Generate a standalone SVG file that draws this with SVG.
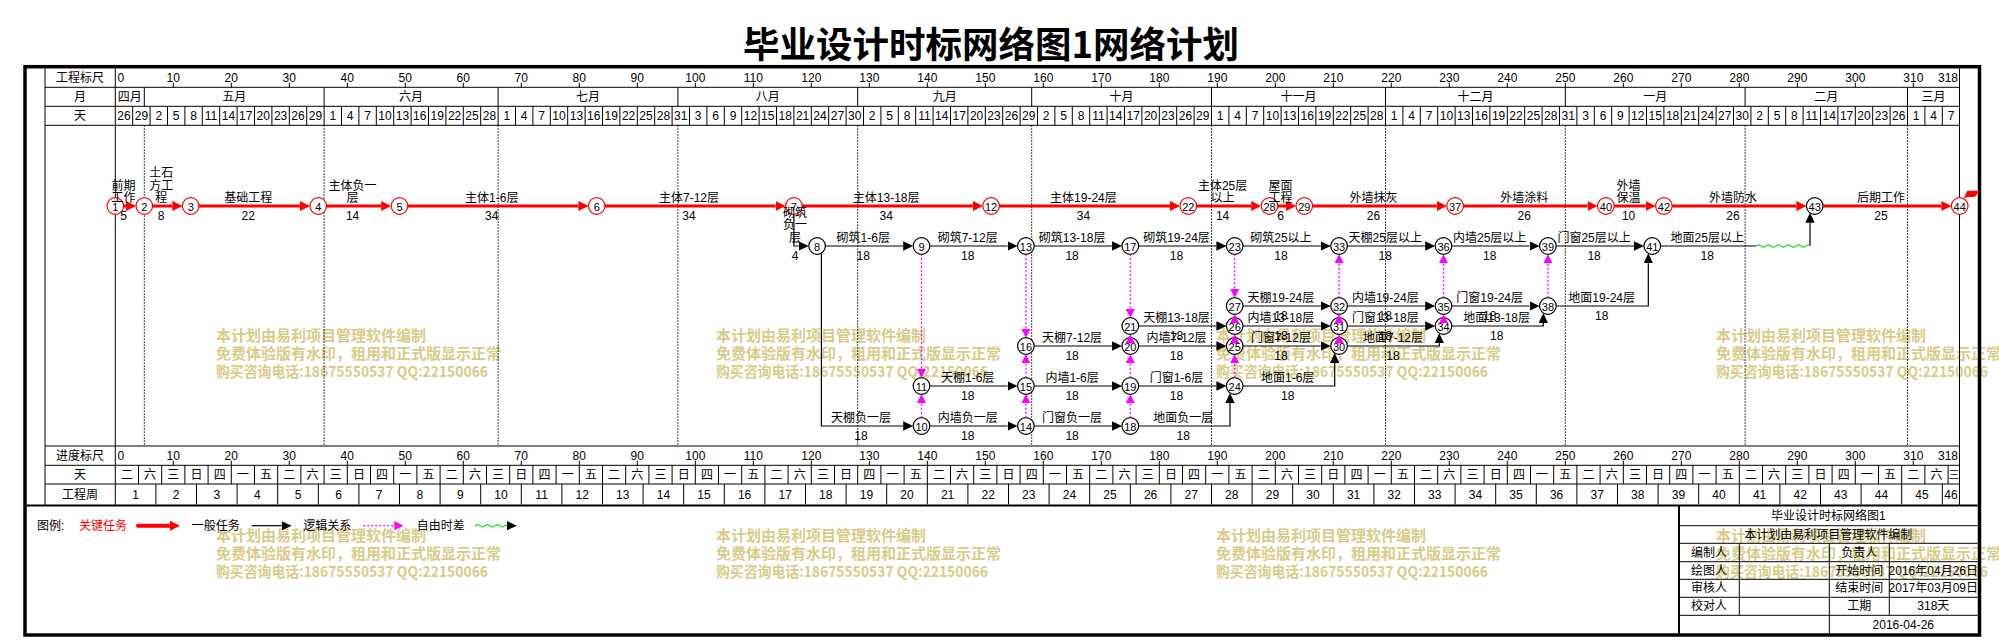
<svg xmlns="http://www.w3.org/2000/svg" width="1999" height="640" viewBox="0 0 1999 640">
<style>
text{font-family:"Liberation Sans","Noto Sans CJK SC",sans-serif;font-size:12px;fill:#000;dominant-baseline:central}
.c{text-anchor:middle}
.e{text-anchor:end}
.s{font-size:11px}
.r{fill:#f00}
.wm{font-family:"Noto Sans CJK SC",sans-serif;font-weight:bold;font-size:15px;fill:#d8cc88}
.title{font-family:"Noto Sans CJK SC",sans-serif;font-weight:bold;font-size:36.5px;text-anchor:middle}
.ln{stroke:#000;stroke-width:1;fill:none}
.dot{stroke:#000;stroke-width:1;stroke-dasharray:1.5 1.5;fill:none}
.nr circle{fill:#fff;stroke:#f00;stroke-width:1.2}
.nb circle{fill:#fff;stroke:#000;stroke-width:1.2}
.nr text,.nb text{font-size:11px;text-anchor:middle}
.cr{stroke:#f00;stroke-width:3;fill:none}
.cb{stroke:#000;stroke-width:1.2;fill:none}
.cm{stroke:#f0f;stroke-width:1.3;stroke-dasharray:2 2;fill:none}
.wave{stroke:#1fdc1f;stroke-width:1.2;fill:none}
</style>
<defs>
<marker id="ar" viewBox="0 0 10 10" refX="0" refY="5" markerWidth="10" markerHeight="10" orient="auto" markerUnits="userSpaceOnUse"><path d="M0,0L10,5L0,10z" fill="#f00"/></marker>
<marker id="ab" viewBox="0 0 10 9.4" refX="0" refY="4.7" markerWidth="10" markerHeight="9.4" orient="auto" markerUnits="userSpaceOnUse"><path d="M0,0L10,4.7L0,9.4z" fill="#000"/></marker>
<marker id="am" viewBox="0 0 9 9.4" refX="0" refY="4.7" markerWidth="9" markerHeight="9.4" orient="auto" markerUnits="userSpaceOnUse"><path d="M0,0L9,4.7L0,9.4z" fill="#f0f"/></marker>
</defs>
<rect x="0" y="0" width="1999" height="640" fill="#fff"/>
<text class="title" x="991" y="42">毕业设计时标网络图1网络计划</text>

<g id="watermarks">
<text class="wm" x="216" y="334">本计划由易利项目管理软件编制</text>
<text class="wm" x="216" y="352.5">免费体验版有水印，租用和正式版显示正常</text>
<text class="wm" x="216" y="370" textLength="272" lengthAdjust="spacingAndGlyphs">购买咨询电话:18675550537 QQ:22150066</text>
<text class="wm" x="716" y="334">本计划由易利项目管理软件编制</text>
<text class="wm" x="716" y="352.5">免费体验版有水印，租用和正式版显示正常</text>
<text class="wm" x="716" y="370" textLength="272" lengthAdjust="spacingAndGlyphs">购买咨询电话:18675550537 QQ:22150066</text>
<text class="wm" x="1216" y="334">本计划由易利项目管理软件编制</text>
<text class="wm" x="1216" y="352.5">免费体验版有水印，租用和正式版显示正常</text>
<text class="wm" x="1216" y="370" textLength="272" lengthAdjust="spacingAndGlyphs">购买咨询电话:18675550537 QQ:22150066</text>
<text class="wm" x="1716" y="334">本计划由易利项目管理软件编制</text>
<text class="wm" x="1716" y="352.5">免费体验版有水印，租用和正式版显示正常</text>
<text class="wm" x="1716" y="370" textLength="272" lengthAdjust="spacingAndGlyphs">购买咨询电话:18675550537 QQ:22150066</text>
<text class="wm" x="216" y="534">本计划由易利项目管理软件编制</text>
<text class="wm" x="216" y="552.5">免费体验版有水印，租用和正式版显示正常</text>
<text class="wm" x="216" y="570" textLength="272" lengthAdjust="spacingAndGlyphs">购买咨询电话:18675550537 QQ:22150066</text>
<text class="wm" x="716" y="534">本计划由易利项目管理软件编制</text>
<text class="wm" x="716" y="552.5">免费体验版有水印，租用和正式版显示正常</text>
<text class="wm" x="716" y="570" textLength="272" lengthAdjust="spacingAndGlyphs">购买咨询电话:18675550537 QQ:22150066</text>
<text class="wm" x="1216" y="534">本计划由易利项目管理软件编制</text>
<text class="wm" x="1216" y="552.5">免费体验版有水印，租用和正式版显示正常</text>
<text class="wm" x="1216" y="570" textLength="272" lengthAdjust="spacingAndGlyphs">购买咨询电话:18675550537 QQ:22150066</text>
<text class="wm" x="1716" y="534">本计划由易利项目管理软件编制</text>
<text class="wm" x="1716" y="552.5">免费体验版有水印，租用和正式版显示正常</text>
<text class="wm" x="1716" y="570" textLength="272" lengthAdjust="spacingAndGlyphs">购买咨询电话:18675550537 QQ:22150066</text>
</g>

<g id="frame">
<rect x="25" y="66.7" width="1954.5" height="568.3" fill="none" stroke="#000" stroke-width="3.5"/>
<path class="ln" d="M45,68.4V505M115.3,68.4V505M1959.5,68.4V505M45,87.3H1959.5M45,106.3H1959.5M45,125.3H1959.5M45,446H1959.5M45,465.3H1959.5M45,484H1959.5"/>
<path d="M26.7,505.5H1977.7" stroke="#000" stroke-width="2"/>
</g>

<g id="scale-top">
<text x="80" y="77.7" class="c">工程标尺</text>
<text x="80" y="96.8" class="c">月</text>
<text x="80" y="115.8" class="c">天</text>
<path class="ln" d="M173.3,82.7V87.3M231.3,82.7V87.3M289.3,82.7V87.3M347.3,82.7V87.3M405.3,82.7V87.3M463.3,82.7V87.3M521.3,82.7V87.3M579.3,82.7V87.3M637.3,82.7V87.3M695.3,82.7V87.3M753.3,82.7V87.3M811.3,82.7V87.3M869.3,82.7V87.3M927.3,82.7V87.3M985.3,82.7V87.3M1043.3,82.7V87.3M1101.3,82.7V87.3M1159.3,82.7V87.3M1217.3,82.7V87.3M1275.3,82.7V87.3M1333.3,82.7V87.3M1391.3,82.7V87.3M1449.3,82.7V87.3M1507.3,82.7V87.3M1565.3,82.7V87.3M1623.3,82.7V87.3M1681.3,82.7V87.3M1739.3,82.7V87.3M1797.3,82.7V87.3M1855.3,82.7V87.3M1913.3,82.7V87.3"/>
<g class="s">
<text x="117.5" y="77.7">0</text>
<text x="173.3" y="77.7" class="c">10</text><text x="231.3" y="77.7" class="c">20</text><text x="289.3" y="77.7" class="c">30</text><text x="347.3" y="77.7" class="c">40</text><text x="405.3" y="77.7" class="c">50</text><text x="463.3" y="77.7" class="c">60</text><text x="521.3" y="77.7" class="c">70</text><text x="579.3" y="77.7" class="c">80</text><text x="637.3" y="77.7" class="c">90</text><text x="695.3" y="77.7" class="c">100</text><text x="753.3" y="77.7" class="c">110</text><text x="811.3" y="77.7" class="c">120</text><text x="869.3" y="77.7" class="c">130</text><text x="927.3" y="77.7" class="c">140</text><text x="985.3" y="77.7" class="c">150</text><text x="1043.3" y="77.7" class="c">160</text><text x="1101.3" y="77.7" class="c">170</text><text x="1159.3" y="77.7" class="c">180</text><text x="1217.3" y="77.7" class="c">190</text><text x="1275.3" y="77.7" class="c">200</text><text x="1333.3" y="77.7" class="c">210</text><text x="1391.3" y="77.7" class="c">220</text><text x="1449.3" y="77.7" class="c">230</text><text x="1507.3" y="77.7" class="c">240</text><text x="1565.3" y="77.7" class="c">250</text><text x="1623.3" y="77.7" class="c">260</text><text x="1681.3" y="77.7" class="c">270</text><text x="1739.3" y="77.7" class="c">280</text><text x="1797.3" y="77.7" class="c">290</text><text x="1855.3" y="77.7" class="c">300</text><text x="1913.3" y="77.7" class="c">310</text>
<text x="1958" y="77.7" class="e">318</text>
</g>
<path class="ln" d="M144.3,87.3V106.3M324.1,87.3V106.3M498.1,87.3V106.3M677.9,87.3V106.3M857.7,87.3V106.3M1031.7,87.3V106.3M1211.5,87.3V106.3M1385.5,87.3V106.3M1565.3,87.3V106.3M1745.1,87.3V106.3M1907.5,87.3V106.3"/>
<text x="129.8" y="96.8" class="c">四月</text><text x="234.2" y="96.8" class="c">五月</text><text x="411.1" y="96.8" class="c">六月</text><text x="588" y="96.8" class="c">七月</text><text x="767.8" y="96.8" class="c">八月</text><text x="944.7" y="96.8" class="c">九月</text><text x="1121.6" y="96.8" class="c">十月</text><text x="1298.5" y="96.8" class="c">十一月</text><text x="1475.4" y="96.8" class="c">十二月</text><text x="1655.2" y="96.8" class="c">一月</text><text x="1826.3" y="96.8" class="c">二月</text><text x="1933.6" y="96.8" class="c">三月</text>
<path class="ln" d="M132.7,106.3V125.3M150.1,106.3V125.3M167.5,106.3V125.3M184.9,106.3V125.3M202.3,106.3V125.3M219.7,106.3V125.3M237.1,106.3V125.3M254.5,106.3V125.3M271.9,106.3V125.3M289.3,106.3V125.3M306.7,106.3V125.3M324.1,106.3V125.3M341.5,106.3V125.3M358.9,106.3V125.3M376.3,106.3V125.3M393.7,106.3V125.3M411.1,106.3V125.3M428.5,106.3V125.3M445.9,106.3V125.3M463.3,106.3V125.3M480.7,106.3V125.3M498.1,106.3V125.3M515.5,106.3V125.3M532.9,106.3V125.3M550.3,106.3V125.3M567.7,106.3V125.3M585.1,106.3V125.3M602.5,106.3V125.3M619.9,106.3V125.3M637.3,106.3V125.3M654.7,106.3V125.3M672.1,106.3V125.3M689.5,106.3V125.3M706.9,106.3V125.3M724.3,106.3V125.3M741.7,106.3V125.3M759.1,106.3V125.3M776.5,106.3V125.3M793.9,106.3V125.3M811.3,106.3V125.3M828.7,106.3V125.3M846.1,106.3V125.3M863.5,106.3V125.3M880.9,106.3V125.3M898.3,106.3V125.3M915.7,106.3V125.3M933.1,106.3V125.3M950.5,106.3V125.3M967.9,106.3V125.3M985.3,106.3V125.3M1002.7,106.3V125.3M1020.1,106.3V125.3M1037.5,106.3V125.3M1054.9,106.3V125.3M1072.3,106.3V125.3M1089.7,106.3V125.3M1107.1,106.3V125.3M1124.5,106.3V125.3M1141.9,106.3V125.3M1159.3,106.3V125.3M1176.7,106.3V125.3M1194.1,106.3V125.3M1211.5,106.3V125.3M1228.9,106.3V125.3M1246.3,106.3V125.3M1263.7,106.3V125.3M1281.1,106.3V125.3M1298.5,106.3V125.3M1315.9,106.3V125.3M1333.3,106.3V125.3M1350.7,106.3V125.3M1368.1,106.3V125.3M1385.5,106.3V125.3M1402.9,106.3V125.3M1420.3,106.3V125.3M1437.7,106.3V125.3M1455.1,106.3V125.3M1472.5,106.3V125.3M1489.9,106.3V125.3M1507.3,106.3V125.3M1524.7,106.3V125.3M1542.1,106.3V125.3M1559.5,106.3V125.3M1576.9,106.3V125.3M1594.3,106.3V125.3M1611.7,106.3V125.3M1629.1,106.3V125.3M1646.5,106.3V125.3M1663.9,106.3V125.3M1681.3,106.3V125.3M1698.7,106.3V125.3M1716.1,106.3V125.3M1733.5,106.3V125.3M1750.9,106.3V125.3M1768.3,106.3V125.3M1785.7,106.3V125.3M1803.1,106.3V125.3M1820.5,106.3V125.3M1837.9,106.3V125.3M1855.3,106.3V125.3M1872.7,106.3V125.3M1890.1,106.3V125.3M1907.5,106.3V125.3M1924.9,106.3V125.3M1942.3,106.3V125.3"/>
<g class="s">
<text x="124" y="115.8" class="c">26</text><text x="141.4" y="115.8" class="c">29</text><text x="158.8" y="115.8" class="c">2</text><text x="176.2" y="115.8" class="c">5</text><text x="193.6" y="115.8" class="c">8</text><text x="211" y="115.8" class="c">11</text><text x="228.4" y="115.8" class="c">14</text><text x="245.8" y="115.8" class="c">17</text><text x="263.2" y="115.8" class="c">20</text><text x="280.6" y="115.8" class="c">23</text><text x="298" y="115.8" class="c">26</text><text x="315.4" y="115.8" class="c">29</text><text x="332.8" y="115.8" class="c">1</text><text x="350.2" y="115.8" class="c">4</text><text x="367.6" y="115.8" class="c">7</text><text x="385" y="115.8" class="c">10</text><text x="402.4" y="115.8" class="c">13</text><text x="419.8" y="115.8" class="c">16</text><text x="437.2" y="115.8" class="c">19</text><text x="454.6" y="115.8" class="c">22</text><text x="472" y="115.8" class="c">25</text><text x="489.4" y="115.8" class="c">28</text><text x="506.8" y="115.8" class="c">1</text><text x="524.2" y="115.8" class="c">4</text><text x="541.6" y="115.8" class="c">7</text><text x="559" y="115.8" class="c">10</text><text x="576.4" y="115.8" class="c">13</text><text x="593.8" y="115.8" class="c">16</text><text x="611.2" y="115.8" class="c">19</text><text x="628.6" y="115.8" class="c">22</text><text x="646" y="115.8" class="c">25</text><text x="663.4" y="115.8" class="c">28</text><text x="680.8" y="115.8" class="c">31</text><text x="698.2" y="115.8" class="c">3</text><text x="715.6" y="115.8" class="c">6</text><text x="733" y="115.8" class="c">9</text><text x="750.4" y="115.8" class="c">12</text><text x="767.8" y="115.8" class="c">15</text><text x="785.2" y="115.8" class="c">18</text><text x="802.6" y="115.8" class="c">21</text><text x="820" y="115.8" class="c">24</text><text x="837.4" y="115.8" class="c">27</text><text x="854.8" y="115.8" class="c">30</text><text x="872.2" y="115.8" class="c">2</text><text x="889.6" y="115.8" class="c">5</text><text x="907" y="115.8" class="c">8</text><text x="924.4" y="115.8" class="c">11</text><text x="941.8" y="115.8" class="c">14</text><text x="959.2" y="115.8" class="c">17</text><text x="976.6" y="115.8" class="c">20</text><text x="994" y="115.8" class="c">23</text><text x="1011.4" y="115.8" class="c">26</text><text x="1028.8" y="115.8" class="c">29</text><text x="1046.2" y="115.8" class="c">2</text><text x="1063.6" y="115.8" class="c">5</text><text x="1081" y="115.8" class="c">8</text><text x="1098.4" y="115.8" class="c">11</text><text x="1115.8" y="115.8" class="c">14</text><text x="1133.2" y="115.8" class="c">17</text><text x="1150.6" y="115.8" class="c">20</text><text x="1168" y="115.8" class="c">23</text><text x="1185.4" y="115.8" class="c">26</text><text x="1202.8" y="115.8" class="c">29</text><text x="1220.2" y="115.8" class="c">1</text><text x="1237.6" y="115.8" class="c">4</text><text x="1255" y="115.8" class="c">7</text><text x="1272.4" y="115.8" class="c">10</text><text x="1289.8" y="115.8" class="c">13</text><text x="1307.2" y="115.8" class="c">16</text><text x="1324.6" y="115.8" class="c">19</text><text x="1342" y="115.8" class="c">22</text><text x="1359.4" y="115.8" class="c">25</text><text x="1376.8" y="115.8" class="c">28</text><text x="1394.2" y="115.8" class="c">1</text><text x="1411.6" y="115.8" class="c">4</text><text x="1429" y="115.8" class="c">7</text><text x="1446.4" y="115.8" class="c">10</text><text x="1463.8" y="115.8" class="c">13</text><text x="1481.2" y="115.8" class="c">16</text><text x="1498.6" y="115.8" class="c">19</text><text x="1516" y="115.8" class="c">22</text><text x="1533.4" y="115.8" class="c">25</text><text x="1550.8" y="115.8" class="c">28</text><text x="1568.2" y="115.8" class="c">31</text><text x="1585.6" y="115.8" class="c">3</text><text x="1603" y="115.8" class="c">6</text><text x="1620.4" y="115.8" class="c">9</text><text x="1637.8" y="115.8" class="c">12</text><text x="1655.2" y="115.8" class="c">15</text><text x="1672.6" y="115.8" class="c">18</text><text x="1690" y="115.8" class="c">21</text><text x="1707.4" y="115.8" class="c">24</text><text x="1724.8" y="115.8" class="c">27</text><text x="1742.2" y="115.8" class="c">30</text><text x="1759.6" y="115.8" class="c">2</text><text x="1777" y="115.8" class="c">5</text><text x="1794.4" y="115.8" class="c">8</text><text x="1811.8" y="115.8" class="c">11</text><text x="1829.2" y="115.8" class="c">14</text><text x="1846.6" y="115.8" class="c">17</text><text x="1864" y="115.8" class="c">20</text><text x="1881.4" y="115.8" class="c">23</text><text x="1898.8" y="115.8" class="c">26</text><text x="1916.2" y="115.8" class="c">1</text><text x="1933.6" y="115.8" class="c">4</text><text x="1951" y="115.8" class="c">7</text>
</g>
</g>

<path id="month-lines" class="dot" d="M144.3,125.3V446M324.1,125.3V446M498.1,125.3V446M677.9,125.3V446M857.7,125.3V446M1031.7,125.3V446M1211.5,125.3V446M1385.5,125.3V446M1565.3,125.3V446M1745.1,125.3V446M1907.5,125.3V446"/>

<g id="scale-bottom">
<text x="80" y="455.7" class="c">进度标尺</text>
<text x="80" y="474.7" class="c">天</text>
<text x="80" y="494.5" class="c">工程周</text>
<path class="ln" d="M173.3,460.7V465.3M231.3,460.7V465.3M289.3,460.7V465.3M347.3,460.7V465.3M405.3,460.7V465.3M463.3,460.7V465.3M521.3,460.7V465.3M579.3,460.7V465.3M637.3,460.7V465.3M695.3,460.7V465.3M753.3,460.7V465.3M811.3,460.7V465.3M869.3,460.7V465.3M927.3,460.7V465.3M985.3,460.7V465.3M1043.3,460.7V465.3M1101.3,460.7V465.3M1159.3,460.7V465.3M1217.3,460.7V465.3M1275.3,460.7V465.3M1333.3,460.7V465.3M1391.3,460.7V465.3M1449.3,460.7V465.3M1507.3,460.7V465.3M1565.3,460.7V465.3M1623.3,460.7V465.3M1681.3,460.7V465.3M1739.3,460.7V465.3M1797.3,460.7V465.3M1855.3,460.7V465.3M1913.3,460.7V465.3"/>
<g class="s">
<text x="117.5" y="455.7">0</text>
<text x="173.3" y="455.7" class="c">10</text><text x="231.3" y="455.7" class="c">20</text><text x="289.3" y="455.7" class="c">30</text><text x="347.3" y="455.7" class="c">40</text><text x="405.3" y="455.7" class="c">50</text><text x="463.3" y="455.7" class="c">60</text><text x="521.3" y="455.7" class="c">70</text><text x="579.3" y="455.7" class="c">80</text><text x="637.3" y="455.7" class="c">90</text><text x="695.3" y="455.7" class="c">100</text><text x="753.3" y="455.7" class="c">110</text><text x="811.3" y="455.7" class="c">120</text><text x="869.3" y="455.7" class="c">130</text><text x="927.3" y="455.7" class="c">140</text><text x="985.3" y="455.7" class="c">150</text><text x="1043.3" y="455.7" class="c">160</text><text x="1101.3" y="455.7" class="c">170</text><text x="1159.3" y="455.7" class="c">180</text><text x="1217.3" y="455.7" class="c">190</text><text x="1275.3" y="455.7" class="c">200</text><text x="1333.3" y="455.7" class="c">210</text><text x="1391.3" y="455.7" class="c">220</text><text x="1449.3" y="455.7" class="c">230</text><text x="1507.3" y="455.7" class="c">240</text><text x="1565.3" y="455.7" class="c">250</text><text x="1623.3" y="455.7" class="c">260</text><text x="1681.3" y="455.7" class="c">270</text><text x="1739.3" y="455.7" class="c">280</text><text x="1797.3" y="455.7" class="c">290</text><text x="1855.3" y="455.7" class="c">300</text><text x="1913.3" y="455.7" class="c">310</text>
<text x="1958" y="455.7" class="e">318</text>
</g>
<path class="ln" d="M138.5,465.3V484M161.7,465.3V484M184.9,465.3V484M208.1,465.3V484M231.3,465.3V484M254.5,465.3V484M277.7,465.3V484M300.9,465.3V484M324.1,465.3V484M347.3,465.3V484M370.5,465.3V484M393.7,465.3V484M416.9,465.3V484M440.1,465.3V484M463.3,465.3V484M486.5,465.3V484M509.7,465.3V484M532.9,465.3V484M556.1,465.3V484M579.3,465.3V484M602.5,465.3V484M625.7,465.3V484M648.9,465.3V484M672.1,465.3V484M695.3,465.3V484M718.5,465.3V484M741.7,465.3V484M764.9,465.3V484M788.1,465.3V484M811.3,465.3V484M834.5,465.3V484M857.7,465.3V484M880.9,465.3V484M904.1,465.3V484M927.3,465.3V484M950.5,465.3V484M973.7,465.3V484M996.9,465.3V484M1020.1,465.3V484M1043.3,465.3V484M1066.5,465.3V484M1089.7,465.3V484M1112.9,465.3V484M1136.1,465.3V484M1159.3,465.3V484M1182.5,465.3V484M1205.7,465.3V484M1228.9,465.3V484M1252.1,465.3V484M1275.3,465.3V484M1298.5,465.3V484M1321.7,465.3V484M1344.9,465.3V484M1368.1,465.3V484M1391.3,465.3V484M1414.5,465.3V484M1437.7,465.3V484M1460.9,465.3V484M1484.1,465.3V484M1507.3,465.3V484M1530.5,465.3V484M1553.7,465.3V484M1576.9,465.3V484M1600.1,465.3V484M1623.3,465.3V484M1646.5,465.3V484M1669.7,465.3V484M1692.9,465.3V484M1716.1,465.3V484M1739.3,465.3V484M1762.5,465.3V484M1785.7,465.3V484M1808.9,465.3V484M1832.1,465.3V484M1855.3,465.3V484M1878.5,465.3V484M1901.7,465.3V484M1924.9,465.3V484M1948.1,465.3V484"/>
<text x="126.9" y="474.7" class="c">二</text><text x="150.1" y="474.7" class="c">六</text><text x="173.3" y="474.7" class="c">三</text><text x="196.5" y="474.7" class="c">日</text><text x="219.7" y="474.7" class="c">四</text><text x="242.9" y="474.7" class="c">一</text><text x="266.1" y="474.7" class="c">五</text><text x="289.3" y="474.7" class="c">二</text><text x="312.5" y="474.7" class="c">六</text><text x="335.7" y="474.7" class="c">三</text><text x="358.9" y="474.7" class="c">日</text><text x="382.1" y="474.7" class="c">四</text><text x="405.3" y="474.7" class="c">一</text><text x="428.5" y="474.7" class="c">五</text><text x="451.7" y="474.7" class="c">二</text><text x="474.9" y="474.7" class="c">六</text><text x="498.1" y="474.7" class="c">三</text><text x="521.3" y="474.7" class="c">日</text><text x="544.5" y="474.7" class="c">四</text><text x="567.7" y="474.7" class="c">一</text><text x="590.9" y="474.7" class="c">五</text><text x="614.1" y="474.7" class="c">二</text><text x="637.3" y="474.7" class="c">六</text><text x="660.5" y="474.7" class="c">三</text><text x="683.7" y="474.7" class="c">日</text><text x="706.9" y="474.7" class="c">四</text><text x="730.1" y="474.7" class="c">一</text><text x="753.3" y="474.7" class="c">五</text><text x="776.5" y="474.7" class="c">二</text><text x="799.7" y="474.7" class="c">六</text><text x="822.9" y="474.7" class="c">三</text><text x="846.1" y="474.7" class="c">日</text><text x="869.3" y="474.7" class="c">四</text><text x="892.5" y="474.7" class="c">一</text><text x="915.7" y="474.7" class="c">五</text><text x="938.9" y="474.7" class="c">二</text><text x="962.1" y="474.7" class="c">六</text><text x="985.3" y="474.7" class="c">三</text><text x="1008.5" y="474.7" class="c">日</text><text x="1031.7" y="474.7" class="c">四</text><text x="1054.9" y="474.7" class="c">一</text><text x="1078.1" y="474.7" class="c">五</text><text x="1101.3" y="474.7" class="c">二</text><text x="1124.5" y="474.7" class="c">六</text><text x="1147.7" y="474.7" class="c">三</text><text x="1170.9" y="474.7" class="c">日</text><text x="1194.1" y="474.7" class="c">四</text><text x="1217.3" y="474.7" class="c">一</text><text x="1240.5" y="474.7" class="c">五</text><text x="1263.7" y="474.7" class="c">二</text><text x="1286.9" y="474.7" class="c">六</text><text x="1310.1" y="474.7" class="c">三</text><text x="1333.3" y="474.7" class="c">日</text><text x="1356.5" y="474.7" class="c">四</text><text x="1379.7" y="474.7" class="c">一</text><text x="1402.9" y="474.7" class="c">五</text><text x="1426.1" y="474.7" class="c">二</text><text x="1449.3" y="474.7" class="c">六</text><text x="1472.5" y="474.7" class="c">三</text><text x="1495.7" y="474.7" class="c">日</text><text x="1518.9" y="474.7" class="c">四</text><text x="1542.1" y="474.7" class="c">一</text><text x="1565.3" y="474.7" class="c">五</text><text x="1588.5" y="474.7" class="c">二</text><text x="1611.7" y="474.7" class="c">六</text><text x="1634.9" y="474.7" class="c">三</text><text x="1658.1" y="474.7" class="c">日</text><text x="1681.3" y="474.7" class="c">四</text><text x="1704.5" y="474.7" class="c">一</text><text x="1727.7" y="474.7" class="c">五</text><text x="1750.9" y="474.7" class="c">二</text><text x="1774.1" y="474.7" class="c">六</text><text x="1797.3" y="474.7" class="c">三</text><text x="1820.5" y="474.7" class="c">日</text><text x="1843.7" y="474.7" class="c">四</text><text x="1866.9" y="474.7" class="c">一</text><text x="1890.1" y="474.7" class="c">五</text><text x="1913.3" y="474.7" class="c">二</text><text x="1936.5" y="474.7" class="c">六</text><text x="1953.9" y="474.7" class="c" style="font-size:11px">三</text>
<path class="ln" d="M155.9,484V504.5M196.5,484V504.5M237.1,484V504.5M277.7,484V504.5M318.3,484V504.5M358.9,484V504.5M399.5,484V504.5M440.1,484V504.5M480.7,484V504.5M521.3,484V504.5M561.9,484V504.5M602.5,484V504.5M643.1,484V504.5M683.7,484V504.5M724.3,484V504.5M764.9,484V504.5M805.5,484V504.5M846.1,484V504.5M886.7,484V504.5M927.3,484V504.5M967.9,484V504.5M1008.5,484V504.5M1049.1,484V504.5M1089.7,484V504.5M1130.3,484V504.5M1170.9,484V504.5M1211.5,484V504.5M1252.1,484V504.5M1292.7,484V504.5M1333.3,484V504.5M1373.9,484V504.5M1414.5,484V504.5M1455.1,484V504.5M1495.7,484V504.5M1536.3,484V504.5M1576.9,484V504.5M1617.5,484V504.5M1658.1,484V504.5M1698.7,484V504.5M1739.3,484V504.5M1779.9,484V504.5M1820.5,484V504.5M1861.1,484V504.5M1901.7,484V504.5M1942.3,484V504.5"/>
<g class="s">
<text x="135.6" y="494.5" class="c">1</text><text x="176.2" y="494.5" class="c">2</text><text x="216.8" y="494.5" class="c">3</text><text x="257.4" y="494.5" class="c">4</text><text x="298" y="494.5" class="c">5</text><text x="338.6" y="494.5" class="c">6</text><text x="379.2" y="494.5" class="c">7</text><text x="419.8" y="494.5" class="c">8</text><text x="460.4" y="494.5" class="c">9</text><text x="501" y="494.5" class="c">10</text><text x="541.6" y="494.5" class="c">11</text><text x="582.2" y="494.5" class="c">12</text><text x="622.8" y="494.5" class="c">13</text><text x="663.4" y="494.5" class="c">14</text><text x="704" y="494.5" class="c">15</text><text x="744.6" y="494.5" class="c">16</text><text x="785.2" y="494.5" class="c">17</text><text x="825.8" y="494.5" class="c">18</text><text x="866.4" y="494.5" class="c">19</text><text x="907" y="494.5" class="c">20</text><text x="947.6" y="494.5" class="c">21</text><text x="988.2" y="494.5" class="c">22</text><text x="1028.8" y="494.5" class="c">23</text><text x="1069.4" y="494.5" class="c">24</text><text x="1110" y="494.5" class="c">25</text><text x="1150.6" y="494.5" class="c">26</text><text x="1191.2" y="494.5" class="c">27</text><text x="1231.8" y="494.5" class="c">28</text><text x="1272.4" y="494.5" class="c">29</text><text x="1313" y="494.5" class="c">30</text><text x="1353.6" y="494.5" class="c">31</text><text x="1394.2" y="494.5" class="c">32</text><text x="1434.8" y="494.5" class="c">33</text><text x="1475.4" y="494.5" class="c">34</text><text x="1516" y="494.5" class="c">35</text><text x="1556.6" y="494.5" class="c">36</text><text x="1597.2" y="494.5" class="c">37</text><text x="1637.8" y="494.5" class="c">38</text><text x="1678.4" y="494.5" class="c">39</text><text x="1719" y="494.5" class="c">40</text><text x="1759.6" y="494.5" class="c">41</text><text x="1800.2" y="494.5" class="c">42</text><text x="1840.8" y="494.5" class="c">43</text><text x="1881.4" y="494.5" class="c">44</text><text x="1922" y="494.5" class="c">45</text><text x="1951" y="494.5" class="c">46</text>
</g>
</g>

<g id="nodes">
<g id="n1" class="nr"><circle cx="115.3" cy="206" r="8.3"/><text x="115.3" y="206.5">1</text></g>
<g id="n2" class="nr"><circle cx="144.3" cy="206" r="8.3"/><text x="144.3" y="206.5">2</text></g>
<g id="n3" class="nr"><circle cx="190.7" cy="206" r="8.3"/><text x="190.7" y="206.5">3</text></g>
<g id="n4" class="nr"><circle cx="318.3" cy="206" r="8.3"/><text x="318.3" y="206.5">4</text></g>
<g id="n5" class="nr"><circle cx="399.5" cy="206" r="8.3"/><text x="399.5" y="206.5">5</text></g>
<g id="n6" class="nr"><circle cx="596.7" cy="206" r="8.3"/><text x="596.7" y="206.5">6</text></g>
<g id="n7" class="nr"><circle cx="793.9" cy="206" r="8.3"/><text x="793.9" y="206.5">7</text></g>
<g id="n12" class="nr"><circle cx="991.1" cy="206" r="8.3"/><text x="991.1" y="206.5">12</text></g>
<g id="n22" class="nr"><circle cx="1188.3" cy="206" r="8.3"/><text x="1188.3" y="206.5">22</text></g>
<g id="n28" class="nr"><circle cx="1269.5" cy="206" r="8.3"/><text x="1269.5" y="206.5">28</text></g>
<g id="n29" class="nr"><circle cx="1304.3" cy="206" r="8.3"/><text x="1304.3" y="206.5">29</text></g>
<g id="n37" class="nr"><circle cx="1455.1" cy="206" r="8.3"/><text x="1455.1" y="206.5">37</text></g>
<g id="n40" class="nr"><circle cx="1605.9" cy="206" r="8.3"/><text x="1605.9" y="206.5">40</text></g>
<g id="n42" class="nr"><circle cx="1663.9" cy="206" r="8.3"/><text x="1663.9" y="206.5">42</text></g>
<g id="n43" class="nb"><circle cx="1814.7" cy="206" r="8.3"/><text x="1814.7" y="206.5">43</text></g>
<g id="n44" class="nr"><circle cx="1959.7" cy="206" r="8.3"/><text x="1959.7" y="206.5">44</text><polygon points="1963.3,199.3 1967.3,190.7 1980,190.7 1975,196.7 1966,197.3" fill="#f00"/></g>
<g id="n8" class="nb"><circle cx="817.1" cy="246" r="8.3"/><text x="817.1" y="246.5">8</text></g>
<g id="n9" class="nb"><circle cx="921.5" cy="246" r="8.3"/><text x="921.5" y="246.5">9</text></g>
<g id="n13" class="nb"><circle cx="1025.9" cy="246" r="8.3"/><text x="1025.9" y="246.5">13</text></g>
<g id="n17" class="nb"><circle cx="1130.3" cy="246" r="8.3"/><text x="1130.3" y="246.5">17</text></g>
<g id="n23" class="nb"><circle cx="1234.7" cy="246" r="8.3"/><text x="1234.7" y="246.5">23</text></g>
<g id="n33" class="nb"><circle cx="1339.1" cy="246" r="8.3"/><text x="1339.1" y="246.5">33</text></g>
<g id="n36" class="nb"><circle cx="1443.5" cy="246" r="8.3"/><text x="1443.5" y="246.5">36</text></g>
<g id="n39" class="nb"><circle cx="1547.9" cy="246" r="8.3"/><text x="1547.9" y="246.5">39</text></g>
<g id="n41" class="nb"><circle cx="1652.3" cy="246" r="8.3"/><text x="1652.3" y="246.5">41</text></g>
<g id="n27" class="nb"><circle cx="1234.7" cy="306" r="8.3"/><text x="1234.7" y="306.5">27</text></g>
<g id="n32" class="nb"><circle cx="1339.1" cy="306" r="8.3"/><text x="1339.1" y="306.5">32</text></g>
<g id="n35" class="nb"><circle cx="1443.5" cy="306" r="8.3"/><text x="1443.5" y="306.5">35</text></g>
<g id="n38" class="nb"><circle cx="1547.9" cy="306" r="8.3"/><text x="1547.9" y="306.5">38</text></g>
<g id="n21" class="nb"><circle cx="1130.3" cy="326" r="8.3"/><text x="1130.3" y="326.5">21</text></g>
<g id="n26" class="nb"><circle cx="1234.7" cy="326" r="8.3"/><text x="1234.7" y="326.5">26</text></g>
<g id="n31" class="nb"><circle cx="1339.1" cy="326" r="8.3"/><text x="1339.1" y="326.5">31</text></g>
<g id="n34" class="nb"><circle cx="1443.5" cy="326" r="8.3"/><text x="1443.5" y="326.5">34</text></g>
<g id="n16" class="nb"><circle cx="1025.9" cy="346" r="8.3"/><text x="1025.9" y="346.5">16</text></g>
<g id="n20" class="nb"><circle cx="1130.3" cy="346" r="8.3"/><text x="1130.3" y="346.5">20</text></g>
<g id="n25" class="nb"><circle cx="1234.7" cy="346" r="8.3"/><text x="1234.7" y="346.5">25</text></g>
<g id="n30" class="nb"><circle cx="1339.1" cy="346" r="8.3"/><text x="1339.1" y="346.5">30</text></g>
<g id="n11" class="nb"><circle cx="921.5" cy="386" r="8.3"/><text x="921.5" y="386.5">11</text></g>
<g id="n15" class="nb"><circle cx="1025.9" cy="386" r="8.3"/><text x="1025.9" y="386.5">15</text></g>
<g id="n19" class="nb"><circle cx="1130.3" cy="386" r="8.3"/><text x="1130.3" y="386.5">19</text></g>
<g id="n24" class="nb"><circle cx="1234.7" cy="386" r="8.3"/><text x="1234.7" y="386.5">24</text></g>
<g id="n10" class="nb"><circle cx="921.5" cy="426" r="8.3"/><text x="921.5" y="426.5">10</text></g>
<g id="n14" class="nb"><circle cx="1025.9" cy="426" r="8.3"/><text x="1025.9" y="426.5">14</text></g>
<g id="n18" class="nb"><circle cx="1130.3" cy="426" r="8.3"/><text x="1130.3" y="426.5">18</text></g>
</g>

<g id="connectors">
<g marker-end="url(#ar)" class="cr">
<path d="M123.6,206H126"/><path d="M152.6,206H172.4"/><path d="M199,206H300"/><path d="M326.6,206H381.2"/><path d="M407.8,206H578.4"/><path d="M605,206H775.6"/><path d="M802.2,206H972.8"/><path d="M999.4,206H1170"/><path d="M1196.6,206H1251.2"/><path d="M1277.8,206H1286"/><path d="M1312.6,206H1436.8"/><path d="M1463.4,206H1587.6"/><path d="M1614.2,206H1645.6"/><path d="M1672.2,206H1796.4"/><path d="M1823,206H1941.4"/>
</g>
<g marker-end="url(#ab)" class="cb">
<path d="M793.9,214.3V246H798.8"/>
<path d="M825.4,246H903.2"/><path d="M929.8,246H1007.6"/><path d="M1034.2,246H1112"/><path d="M1138.6,246H1216.4"/><path d="M1243,246H1320.8"/><path d="M1347.4,246H1425.2"/><path d="M1451.8,246H1529.6"/><path d="M1556.2,246H1634"/>
<path d="M1243,306H1320.8"/><path d="M1347.4,306H1425.2"/><path d="M1451.8,306H1529.6"/>
<path d="M1138.6,326H1216.4"/><path d="M1243,326H1320.8"/><path d="M1347.4,326H1425.2"/>
<path d="M1034.2,346H1112"/><path d="M1138.6,346H1216.4"/><path d="M1243,346H1320.8"/>
<path d="M929.8,386H1007.6"/><path d="M1034.2,386H1112"/><path d="M1138.6,386H1216.4"/>
<path d="M821.4,253.5V426H903.2"/><path d="M929.8,426H1007.6"/><path d="M1034.2,426H1112"/>
<path d="M1138.6,426H1230V403"/>
<path d="M1243,386H1334.7V363"/>
<path d="M1347.4,346H1439.3V343.2"/>
<path d="M1451.8,326H1543.3V323.1"/>
<path d="M1556.2,306H1648.3V263.3"/>
<path d="M1810,246V222.8"/>
</g>
<path class="cb" d="M1660.6,246H1756"/>
<polyline class="wave" points="1756,246 1758.5,244.7 1761,246 1763.5,247.3 1766,246 1768.5,244.7 1771,246 1773.5,247.3 1776,246 1778.5,244.7 1781,246 1783.5,247.3 1786,246 1788.5,244.7 1791,246 1793.5,247.3 1796,246 1798.5,244.7 1801,246 1803.5,247.3 1806,246 1808.5,244.7 1810,246"/>
<g marker-end="url(#am)" class="cm">
<path d="M921.5,254.3V368.7"/><path d="M1025.9,254.3V328.7"/><path d="M1130.3,254.3V308.7"/><path d="M1234.7,254.3V288.7"/>
<path d="M921.5,417.7V403.3"/><path d="M1025.9,417.7V403.3"/><path d="M1025.9,377.7V363.3"/>
<path d="M1130.3,417.7V403.3"/><path d="M1130.3,377.7V363.3"/><path d="M1130.3,343.8V343.3"/>
<path d="M1234.7,377.7V363.3"/><path d="M1234.7,343.8V343.3"/><path d="M1234.7,323.8V323.3"/>
<path d="M1339.1,343.8V343.3"/><path d="M1339.1,323.8V323.3"/><path d="M1339.1,297.7V263.3"/>
<path d="M1443.5,323.8V323.3"/><path d="M1443.5,297.7V263.3"/>
<path d="M1547.9,297.7V263.3"/>
</g>
</g>

<g id="edge-labels">
<g class="c r">
<text x="123.5" y="186">前期</text><text x="123.5" y="198">工作</text><text x="123.5" y="216">5</text>
<text x="161.2" y="173.4">土石</text><text x="161.2" y="185.6">方工</text><text x="161.2" y="197.7">程</text><text x="161.2" y="216">8</text>
<text x="248.2" y="197.7">基础工程</text><text x="248.2" y="216">22</text>
<text x="352.6" y="185.7">主体负一</text><text x="352.6" y="197.7">层</text><text x="352.6" y="216">14</text>
<text x="491.8" y="197.7">主体1-6层</text><text x="491.8" y="216">34</text>
<text x="689" y="197.7">主体7-12层</text><text x="689" y="216">34</text>
<text x="886.2" y="197.7">主体13-18层</text><text x="886.2" y="216">34</text>
<text x="1083.4" y="197.7">主体19-24层</text><text x="1083.4" y="216">34</text>
<text x="1222.6" y="185.7">主体25层</text><text x="1222.6" y="197.7">以上</text><text x="1222.6" y="216">14</text>
<text x="1280.6" y="185.7">屋面</text><text x="1280.6" y="197.7">工程</text><text x="1280.6" y="216">6</text>
<text x="1373.4" y="197.7">外墙抹灰</text><text x="1373.4" y="216">26</text>
<text x="1524.2" y="197.7">外墙涂料</text><text x="1524.2" y="216">26</text>
<text x="1628.6" y="185.7">外墙</text><text x="1628.6" y="197.7">保温</text><text x="1628.6" y="216">10</text>
<text x="1733" y="197.7">外墙防水</text><text x="1733" y="216">26</text>
<text x="1880.9" y="197.7">后期工作</text><text x="1880.9" y="216">25</text>
</g>
<g class="c">
<text x="795" y="212.7">砌筑</text><text x="795" y="225">负一</text><text x="795" y="237.7">层</text><text x="795" y="256">4</text>
<text x="863.3" y="237.7">砌筑1-6层</text><text x="863.3" y="256">18</text>
<text x="967.7" y="237.7">砌筑7-12层</text><text x="967.7" y="256">18</text>
<text x="1072.1" y="237.7">砌筑13-18层</text><text x="1072.1" y="256">18</text>
<text x="1176.5" y="237.7">砌筑19-24层</text><text x="1176.5" y="256">18</text>
<text x="1280.9" y="237.7">砌筑25以上</text><text x="1280.9" y="256">18</text>
<text x="1385.3" y="237.7">天棚25层以上</text><text x="1385.3" y="256">18</text>
<text x="1489.7" y="237.7">内墙25层以上</text><text x="1489.7" y="256">18</text>
<text x="1594.1" y="237.7">门窗25层以上</text><text x="1594.1" y="256">18</text>
<text x="1707.3" y="237.7">地面25层以上</text><text x="1707.3" y="256">18</text>
<text x="1280.9" y="297.7">天棚19-24层</text><text x="1280.9" y="316">18</text>
<text x="1385.3" y="297.7">内墙19-24层</text><text x="1385.3" y="316">18</text>
<text x="1489.7" y="297.7">门窗19-24层</text><text x="1489.7" y="316">18</text>
<text x="1601.7" y="297.7">地面19-24层</text><text x="1601.7" y="316">18</text>
<text x="1176.5" y="317.7">天棚13-18层</text><text x="1176.5" y="336">18</text>
<text x="1280.9" y="317.7">内墙13-18层</text><text x="1280.9" y="336">18</text>
<text x="1385.3" y="317.7">门窗13-18层</text><text x="1385.3" y="336">18</text>
<text x="1496.7" y="317.7">地面13-18层</text><text x="1496.7" y="336">18</text>
<text x="1072.1" y="337.7">天棚7-12层</text><text x="1072.1" y="356">18</text>
<text x="1176.5" y="337.7">内墙7-12层</text><text x="1176.5" y="356">18</text>
<text x="1280.9" y="337.7">门窗7-12层</text><text x="1280.9" y="356">18</text>
<text x="1393" y="337.7">地面7-12层</text><text x="1393" y="356">18</text>
<text x="967.7" y="377.7">天棚1-6层</text><text x="967.7" y="396">18</text>
<text x="1072.1" y="377.7">内墙1-6层</text><text x="1072.1" y="396">18</text>
<text x="1176.5" y="377.7">门窗1-6层</text><text x="1176.5" y="396">18</text>
<text x="1287.7" y="377.7">地面1-6层</text><text x="1287.7" y="396">18</text>
<text x="861" y="417.7">天棚负一层</text><text x="861" y="436">18</text>
<text x="967.7" y="417.7">内墙负一层</text><text x="967.7" y="436">18</text>
<text x="1072.1" y="417.7">门窗负一层</text><text x="1072.1" y="436">18</text>
<text x="1183.3" y="417.7">地面负一层</text><text x="1183.3" y="436">18</text>
</g>
</g>

<g id="legend">
<text x="37" y="525.5">图例:</text>
<text x="79" y="525.5" class="r">关键任务</text>
<path d="M138,525.7H170" stroke="#f00" stroke-width="4" stroke-linecap="round" marker-end="url(#ar)"/>
<text x="191.7" y="525.5">一般任务</text>
<path d="M251.7,525.7H281.7" stroke="#000" stroke-width="1.2" marker-end="url(#ab)"/>
<text x="303.3" y="525.5">逻辑关系</text>
<path d="M363.3,525.7H394.3" class="cm" marker-end="url(#am)"/>
<text x="416.7" y="525.5">自由时差</text>
<polyline class="wave" points="475,525.7 477.5,524.4 480,525.7 482.5,527 485,525.7 487.5,524.4 490,525.7 492.5,527 495,525.7 497.5,524.4 500,525.7 502.5,527 505,525.7 506.7,525.7"/>
<path d="M506.7,525.7H506.8" stroke="#000" marker-end="url(#ab)"/>
</g>

<g id="title-block">
<path d="M1679,506V634" stroke="#000" stroke-width="2"/>
<path class="ln" d="M1679,525.7H1977.7M1679,543.3H1977.7M1679,561.7H1977.7M1679,579.3H1977.7M1679,597.3H1977.7M1679,615.3H1977.7M1739.3,543.3V615.3M1829.3,543.3V634M1889.3,543.3V615.3"/>
<text x="1828.3" y="516" class="c">毕业设计时标网络图1</text>
<text x="1828.3" y="534.5" class="c">本计划由易利项目管理软件编制</text>
<text x="1709" y="552.5" class="c">编制人</text>
<text x="1709" y="570.5" class="c">绘图人</text>
<text x="1709" y="588.3" class="c">审核人</text>
<text x="1709" y="606.3" class="c">校对人</text>
<text x="1859.3" y="552.5" class="c">负责人</text>
<text x="1859.3" y="570.5" class="c">开始时间</text>
<text x="1859.3" y="588.3" class="c">结束时间</text>
<text x="1859.3" y="606.3" class="c">工期</text>
<text x="1933.3" y="570.5" class="c">2016年04月26日</text>
<text x="1933.3" y="588.3" class="c">2017年03月09日</text>
<text x="1933.3" y="606.3" class="c">318天</text>
<text x="1903.3" y="624.5" class="c">2016-04-26</text>
</g>
</svg>
